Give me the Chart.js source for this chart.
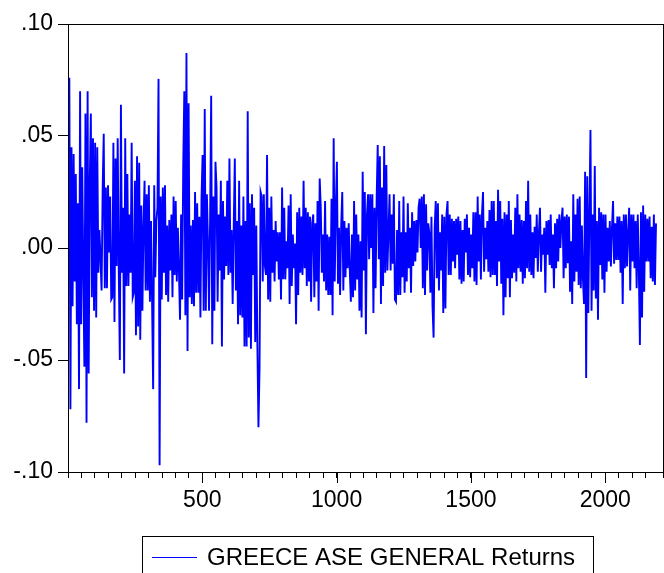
<!DOCTYPE html>
<html lang="en">
<head>
<meta charset="UTF-8">
<title>GREECE ASE GENERAL Returns</title>
<script src="https://cdn.jsdelivr.net/npm/chart.js"></script>
<style>
    html, body { margin: 0; padding: 0; background: #fff; overflow: hidden; }
    #box { width: 672px; height: 573px; }
</style>
</head>
<body>
<div id="box"><canvas id="grafico" width="672" height="573"></canvas></div>
<script>
const seriesName = 'GREECE ASE GENERAL Returns';
const obsStart = 1;
const obsStep = 4;
const returns = [
     0.015, 0.076,-0.072, 0.045,-0.026, 0.042,-0.015, 0.033,-0.034, 0.020,-0.063, 0.070,-0.034, 0.036,-0.010,-0.053, 0.060,-0.078, 0.070,-0.056,
     0.029, 0.060,-0.022, 0.049,-0.028, 0.047,-0.031, 0.045,-0.011, 0.008,-0.005,-0.019, 0.026, 0.051,-0.018, 0.027,-0.018, 0.028,-0.002, 0.023,
    -0.023,-0.022, 0.047,-0.033, 0.040,-0.008, 0.049,-0.010,-0.050, 0.064,-0.011, 0.018,-0.056, 0.049,-0.017, 0.033,-0.017, 0.015,-0.011, 0.047,
    -0.022,-0.020, 0.030,-0.039, 0.041,-0.035, 0.038,-0.041, 0.019,-0.028, 0.010, 0.030,-0.019, 0.024,-0.019, 0.028,-0.024, 0.012,-0.024,-0.063,
     0.028,-0.013, 0.012, 0.018, 0.0755,-0.097, 0.023,-0.023, 0.027,-0.011, 0.028,-0.021, 0.010,-0.024, 0.0125,-0.010, 0.015,-0.022, 0.023,-0.012,
     0.021,-0.015, 0.009,-0.010,-0.032, 0.015,-0.023, 0.037, 0.070,-0.030, 0.087,-0.046, 0.0646,-0.022, 0.010,-0.025, 0.0125,-0.026, 0.025,-0.020,
     0.020,-0.020, 0.014,-0.031, 0.022, 0.0415,-0.028, 0.062,-0.028, 0.024, 0.003,-0.028, 0.012, 0.068,-0.043, 0.023,-0.028, 0.0385, 0.027,-0.024,
     0.015,-0.010, 0.030,-0.044, 0.021,-0.014, 0.014,-0.008, 0.030,-0.012, 0.040,-0.011, 0.008,-0.025, 0.010, 0.040,-0.019, 0.012,-0.034, 0.030,
    -0.030, 0.010,-0.031, 0.023,-0.044, 0.012,-0.044, 0.061,-0.040, 0.020,-0.045, 0.024,-0.012, 0.018,-0.042, 0.010,-0.043,-0.080,-0.054, 0.025,
     0.023,-0.015, 0.024,-0.008,-0.012, 0.0415,-0.023, 0.018,-0.024, 0.023,-0.011, 0.008,-0.015, 0.012,-0.006, 0.007,-0.014, 0.007,-0.023, 0.027,
    -0.014, 0.018,-0.014, 0.003,-0.009, 0.019,-0.025, 0.024,-0.017, 0.006,-0.009, 0.002,-0.034, 0.016,-0.021, 0.018,-0.011, 0.014,-0.012, 0.030,
    -0.009, 0.018,-0.017, 0.016,-0.015, 0.014,-0.024, 0.011, 0.015,-0.022, 0.011,-0.015, 0.021,-0.028, 0.031, 0.018,-0.011, 0.006,-0.015, 0.021,
    -0.019, 0.006,-0.021, 0.005,-0.021, 0.022,-0.030, 0.049,-0.015, 0.018, 0.0385,-0.016, 0.009,-0.021, 0.010, 0.025,-0.019, 0.012,-0.013, 0.009,
    -0.009, 0.011,-0.010,-0.024, 0.006,-0.022, 0.021,-0.019, 0.015,-0.014, 0.006,-0.028, 0.003,-0.031, 0.034,-0.010, 0.025,-0.0385, 0.015, 0.024,
    -0.005, 0.024, 0.000, 0.024,-0.029, 0.018,-0.018, 0.022, 0.046,-0.005, 0.041,-0.025, 0.027,-0.017, 0.0455,-0.011, 0.037,-0.010, 0.007, 0.024,
    -0.010, 0.015,-0.007, 0.024,-0.023,-0.024, 0.008,-0.021, 0.021,-0.021, 0.007,-0.013, 0.023,-0.020, 0.007,-0.015, 0.020,-0.009, 0.009,-0.020,
     0.016,-0.008, 0.012,-0.006, 0.0125,-0.002, 0.018, 0.022, 0.000, 0.023,-0.018, 0.024,-0.021, 0.0195,-0.010, 0.011, 0.007,-0.020, 0.014,-0.026,
    -0.040, 0.009, 0.021,-0.0135, 0.020,-0.019, 0.007,-0.010, 0.015,-0.029, 0.014,-0.027, 0.015, 0.021,-0.012, 0.015,-0.012, 0.013,-0.006, 0.012,
    -0.009, 0.013,-0.003, 0.014,-0.014, 0.012,-0.016, 0.008,-0.015, 0.013,-0.002, 0.015,-0.012, 0.009,-0.013, 0.006,-0.009, 0.016,-0.015, 0.016,
    -0.0165, 0.023,-0.006, 0.015,-0.014, 0.015, 0.025,-0.0106, 0.009,-0.005, 0.012,-0.0106, 0.017,-0.013, 0.021,-0.012, 0.021,-0.012, 0.012,-0.017,
     0.026,-0.006, 0.021,-0.016, 0.013,-0.030, 0.016,-0.022, 0.015,-0.0135, 0.021,-0.022, 0.0125,-0.0135, 0.006,-0.011, 0.018,-0.015, 0.024,-0.009,
     0.015,-0.0106, 0.0125,-0.016, 0.012,-0.0135, 0.021,-0.009, 0.030,-0.0106, 0.015,-0.012, 0.007,-0.0135, 0.0095,-0.0045, 0.015,-0.0106, 0.0065, 0.018,
    -0.0106, 0.006,-0.003, 0.009,-0.020, 0.012,-0.003, 0.0125,-0.0076, 0.015,-0.009, 0.006,-0.018, 0.011,-0.009, 0.013,-0.006, 0.015, 0.000, 0.012,
     0.018,-0.0135, 0.014,-0.009, 0.015,-0.0068, 0.014,-0.0195, 0.003,-0.025, 0.024,-0.015, 0.015,-0.0106, 0.022,-0.0165, 0.023,-0.018, 0.010,-0.014,
    -0.025, 0.034,-0.058, 0.032,-0.029, 0.015, 0.0527,-0.028, 0.015,-0.019, 0.0366,-0.0225, 0.012,-0.032, 0.018,-0.0076, 0.016,-0.014, 0.015,-0.020,
     0.015,-0.0106, 0.009,-0.006, 0.012,-0.0083, 0.009, 0.021,-0.007, 0.011,-0.0054, 0.014,-0.0054, 0.014,-0.011, 0.012,-0.025, 0.015,-0.009, 0.015,
    -0.0083, 0.007, 0.018,-0.019, 0.015,-0.006, 0.015,-0.009, 0.012,-0.018, 0.015,-0.009,-0.0433, 0.016,-0.031, 0.019,-0.0195, 0.015,-0.006, 0.013,
    -0.006, 0.014,-0.0135, 0.0095,-0.015, 0.015,-0.0165, 0.011
];
const yTicks = [-0.10, -0.05, 0.00, 0.05, 0.10];
const xLabels = [500, 1000, 1500, 2000];

const fonte = 'Liberation Sans, Arial, sans-serif';

// moldura, marcas longas do eixo x e a legenda em caixa
const molduraPlugin = {
    id: 'moldura',
    afterDraw(chart) {
        const { ctx, chartArea: a, scales: { x } } = chart;
        ctx.save();
        ctx.strokeStyle = '#000';
        ctx.lineWidth = 1;
        ctx.strokeRect(a.left + 0.5, a.top + 0.5, a.right - a.left, a.bottom - a.top);
        ctx.beginPath();
        xLabels.forEach(v => {
            const px = Math.round(x.getPixelForValue(v)) + 0.5;
            ctx.moveTo(px, a.bottom);
            ctx.lineTo(px, a.bottom + 11);
        });
        ctx.stroke();

        const ds = chart.data.datasets[0];
        ctx.strokeRect(142.5, 536.5, 451, 60);
        ctx.strokeStyle = ds.borderColor;
        ctx.lineWidth = 1.2;
        ctx.beginPath();
        ctx.moveTo(152, 557.5);
        ctx.lineTo(197, 557.5);
        ctx.stroke();
        ctx.fillStyle = '#000';
        ctx.font = '24px ' + fonte;
        ctx.textBaseline = 'alphabetic';
        ctx.fillText(ds.label, 207, 565);
        ctx.restore();
    }
};

const ctx = document.getElementById('grafico').getContext('2d');
new Chart(ctx, {
    type: 'line',
    data: {
        datasets: [{
            label: seriesName,
            data: returns.map((v, i) => ({ x: obsStart + i * obsStep, y: v })),
            borderColor: '#0000ff',
            borderWidth: 1.9,
            pointRadius: 0,
            tension: 0,
            fill: false
        }]
    },
    options: {
        responsive: false,
        animation: false,
        devicePixelRatio: 1,
        layout: { padding: { left: 0, top: 24, right: 0, bottom: 0 } },
        plugins: { legend: { display: false }, tooltip: { enabled: false } },
        scales: {
            x: {
                type: 'linear',
                min: 0,
                max: 2215,
                grid: { display: true, drawOnChartArea: false, drawTicks: true, tickLength: 6, color: '#000', lineWidth: 1 },
                border: { display: true, color: '#000', width: 1 },
                ticks: {
                    stepSize: 50,
                    autoSkip: false,
                    maxRotation: 0,
                    color: '#000',
                    padding: 9,
                    font: { family: fonte, size: 23 },
                    callback: v => xLabels.includes(v) ? String(v) : ''
                },
                afterFit: s => { s.height = 101; }
            },
            y: {
                min: -0.1,
                max: 0.1,
                grid: { display: true, drawOnChartArea: false, drawTicks: true, tickLength: 10, color: '#000', lineWidth: 1 },
                border: { display: true, color: '#000', width: 1 },
                afterBuildTicks: s => { s.ticks = yTicks.map(v => ({ value: v })); },
                ticks: {
                    color: '#000',
                    padding: 5,
                    font: { family: fonte, size: 23 },
                    callback: v => Number(v).toFixed(2).replace(/^(-?)0\./, '$1.')
                },
                afterFit: s => { s.width = 68; }
            }
        }
    },
    plugins: [molduraPlugin]
});
</script>
</body>
</html>
